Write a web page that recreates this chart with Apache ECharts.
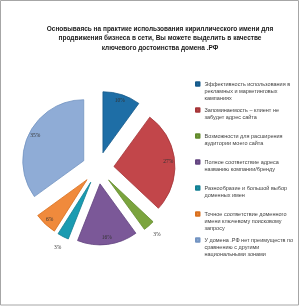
<!DOCTYPE html>
<html>
<head>
<meta charset="utf-8">
<script src="https://cdn.jsdelivr.net/npm/echarts@6/dist/echarts.min.js"></script>
<style>
html,body{margin:0;padding:0;background:#fff;}
#c{width:300px;height:306px;}
</style>
</head>
<body>
<div id="c"></div>
<script>
var titleText = 'Основываясь на практике использования кириллического имени для\nпродвижения бизнеса в сети, Вы можете выделить в качестве\nключевого достоинства домена .РФ';
var categories = [
  'Эффективность использования в\nрекламных и маркетинговых\nкампаниях',
  'Запоминаемость – клиент не\nзабудет адрес сайта',
  'Возможности для расширения\nаудитории моего сайта',
  'Полное соответствие адреса\nназванию компании/бренду',
  'Разнообразие и большой выбор\nдоменных имен',
  'Точное соответствие доменного\nимени ключевому поисковому\nзапросу',
  'У домена .РФ нет преимуществ по\nсравнению с другими\nнациональными зонами'
];
var values = [10, 27, 3, 16, 3, 6, 35];

var colors = ['#1E6EA6', '#C2464A', '#7BA43E', '#7B5898', '#1A9BB1', '#F08A3C', '#8FACD6'];
var borders = ['#175A8A', '#A53538', '#628A2C', '#634580', '#137F92', '#D8701F', '#7394C2'];

var CX = 98, CY = 168, R = 61, OFF = 16;
var LH = 7.3;

var chart = echarts.init(document.getElementById('c'), null, {renderer: 'canvas'});

function mainData() {
  return categories.map(function (n, i) {
    return {name: n, value: values[i], selected: true,
      itemStyle: {color: colors[i], borderColor: borders[i], borderWidth: 0.8}};
  });
}
function labelData(outside) {
  return categories.map(function (n, i) {
    var small = values[i] < 5;
    return {name: n, value: values[i], selected: true,
      label: {show: outside ? small : !small}};
  });
}

var labelStyle = {
  position: 'inside', formatter: '{d}%', fontSize: 5.5,
  fontFamily: 'Liberation Serif', color: '#333333'
};

var series = [
  {
    type: 'pie', center: [CX, CY], radius: [0, R], startAngle: 90, clockwise: true,
    selectedMode: 'multiple', selectedOffset: OFF, silent: true,
    avoidLabelOverlap: false, label: {show: false}, labelLine: {show: false},
    emphasis: {disabled: true}, data: mainData()
  },
  {
    type: 'pie', center: [CX, CY], radius: [R - 17, R - 2], startAngle: 90, clockwise: true,
    selectedMode: 'multiple', selectedOffset: OFF, silent: true, avoidLabelOverlap: false,
    itemStyle: {color: 'rgba(0,0,0,0)', borderWidth: 0},
    label: labelStyle, labelLine: {show: false}, emphasis: {disabled: true},
    data: labelData(false)
  },
  {
    type: 'pie', center: [CX, CY], radius: [R + 1, R + 17], startAngle: 90, clockwise: true,
    selectedMode: 'multiple', selectedOffset: OFF, silent: true, avoidLabelOverlap: false,
    itemStyle: {color: 'rgba(0,0,0,0)', borderWidth: 0},
    label: labelStyle, labelLine: {show: false}, emphasis: {disabled: true},
    data: labelData(true)
  }
];

var legends = categories.map(function (n, i) {
  var lines = n.split('\n').length;
  var firstY = 84 + i * 26;
  var pad = new Array(lines).join('\n');
  return {
    data: [n], orient: 'vertical', left: 195,
    top: firstY - (2 * lines - 1) * LH / 2,
    padding: 0, itemWidth: 3.5, itemHeight: 3.5, icon: 'rect',
    selectedMode: false,
    formatter: function (name) { return pad + name; },
    textStyle: {fontSize: 5.5, lineHeight: LH, color: '#404040',
      fontFamily: 'Liberation Sans'}
  };
});

chart.setOption({
  animation: false,
  backgroundColor: '#ffffff',
  color: colors,
  title: {
    text: titleText, left: 160, top: 24, textAlign: 'center', padding: 0,
    textStyle: {fontSize: 6.5, fontWeight: 'bold', lineHeight: 9.5,
      color: '#1a1a1a', fontFamily: 'Liberation Sans'}
  },
  legend: legends,
  graphic: [{
    type: 'rect', silent: true, z: 100,
    shape: {x: 0.5, y: 0.5, width: 298, height: 304.5},
    style: {fill: 'none', stroke: '#A6A6A6', lineWidth: 1}
  }],
  series: series
});
</script>
</body>
</html>
